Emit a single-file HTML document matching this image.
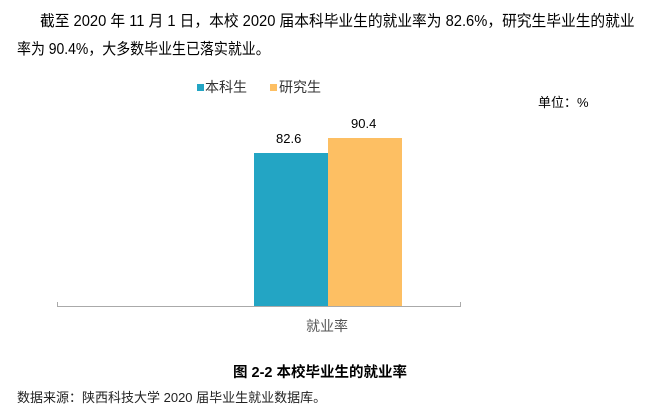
<!DOCTYPE html>
<html><head><meta charset="utf-8"><style>
body{margin:0;width:663px;height:412px;background:#fff;position:relative;overflow:hidden;font-family:"Liberation Sans","Noto Sans CJK SC",sans-serif;color:#000}
.a{position:absolute;white-space:nowrap}
</style></head><body>
<div class="a" style="left:40px;top:9px;font-size:15.5px;transform:scaleX(0.95);transform-origin:left top;">截至 2020 年 11 月 1 日，本校 2020 届本科毕业生的就业率为 82.6%，研究生毕业生的就业</div>
<div class="a" style="left:17px;top:37px;font-size:15.5px;transform:scaleX(0.9);transform-origin:left top;">率为 90.4%，大多数毕业生已落实就业。</div>
<div class="a" style="left:197px;top:84px;width:7px;height:7px;background:#23a5c4"></div>
<div class="a" style="left:205px;top:77px;font-size:14px;color:#333">本科生</div>
<div class="a" style="left:270px;top:84px;width:7px;height:7px;background:#fdbf63"></div>
<div class="a" style="left:279px;top:77px;font-size:14px;color:#333">研究生</div>
<div class="a" style="left:538px;top:92px;font-size:13px;">单位：%</div>
<div class="a" style="left:254px;top:153px;width:74px;height:153px;background:#23a5c4"></div>
<div class="a" style="left:328px;top:138px;width:74px;height:168px;background:#fdbf63"></div>
<div class="a" style="left:276px;top:131px;font-size:13px;">82.6</div>
<div class="a" style="left:351px;top:116px;font-size:13px;">90.4</div>
<div class="a" style="left:57px;top:306px;width:404px;height:1px;background:#aaa"></div>
<div class="a" style="left:57px;top:302px;width:1px;height:5px;background:#aaa"></div>
<div class="a" style="left:460px;top:302px;width:1px;height:5px;background:#aaa"></div>
<div class="a" style="left:306px;top:316px;font-size:14px;color:#555">就业率</div>
<div class="a" style="left:233px;top:361px;font-size:14.5px;font-weight:bold;">图 2-2 本校毕业生的就业率</div>
<div class="a" style="left:17px;top:387px;font-size:13px;color:#222">数据来源：陕西科技大学 2020 届毕业生就业数据库。</div>
</body></html>
